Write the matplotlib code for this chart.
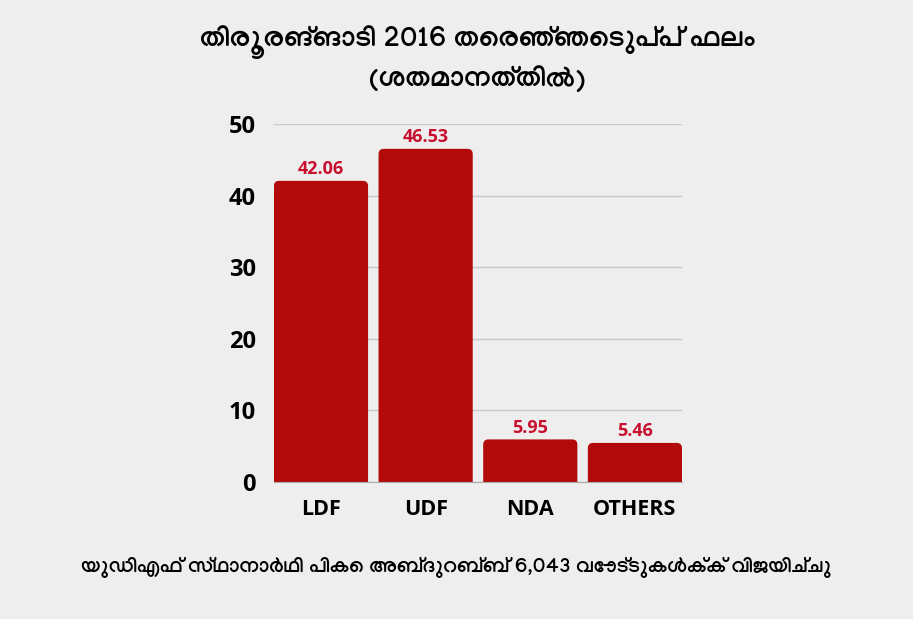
import matplotlib
matplotlib.use('Agg')

import matplotlib.pyplot as plt
from matplotlib.patches import FancyBboxPatch

# data
categories = ['LDF', 'UDF', 'NDA', 'OTHERS']
vote_share = [42.06, 46.53, 5.95, 5.46]
yticks = [0, 10, 20, 30, 40, 50]

title_text = 'തിരൂരങ്ങാടി 2016 തെരഞ്ഞെടുപ്പ് ഫലം\n(ശതമാനത്തിൽ)'
footer_text = 'യുഡിഎഫ് സ്ഥാനാർഥി പികെ അബ്ദുറബ്ബ് 6,043 വോട്ടുകൾക്ക് വിജയിച്ചു'

plt.rcParams['font.family'] = ['Open Sans', 'Noto Sans', 'DejaVu Sans']
ml_fonts = ['Manjari', 'Noto Sans Malayalam', 'Open Sans', 'DejaVu Sans']

bar_color = '#b20a0a'
label_color = '#c8102e'
bg_color = '#eeeeee'

fig = plt.figure(figsize=(9.13, 6.19), dpi=100)
fig.patch.set_facecolor(bg_color)
ax = fig.add_axes([0.300, 0.2213, 0.447, 0.5784])
ax.set_facecolor('none')

width = 0.9
for i, v in enumerate(vote_share):
    # rounded top corners; bottom extends below 0 and gets clipped
    p = FancyBboxPatch((i - width / 2, -3), width, v + 3,
                       boxstyle='round,pad=0,rounding_size=0.05',
                       mutation_aspect=14.5,
                       facecolor=bar_color, edgecolor='none', zorder=3)
    ax.add_patch(p)
    ax.text(i, v + 0.4, f'{v:.2f}', ha='center', va='bottom',
            fontsize=13, fontweight='bold', color=label_color, zorder=4)

ax.set_xlim(-0.45, len(categories) - 0.55)
ax.set_ylim(0, 50)
ax.set_yticks(yticks)
ax.set_yticklabels([str(t) for t in yticks], fontsize=17, fontweight='bold')
ax.set_xticks(range(len(categories)))
ax.set_xticklabels(categories, fontsize=15.5, fontweight='bold')
ax.tick_params(axis='both', length=0)
ax.tick_params(axis='y', pad=13)
ax.tick_params(axis='x', pad=12)

ax.grid(axis='y', color='#c8c8c8', linewidth=1, zorder=0)
for s in ['top', 'right', 'left']:
    ax.spines[s].set_visible(False)
ax.spines['bottom'].set_color('#aaaaaa')
ax.spines['bottom'].set_zorder(5)

fig.text(0.523, 0.905, title_text, ha='center', va='center', family=ml_fonts,
         fontsize=20.5, fontweight='bold', linespacing=1.3)
fig.text(0.50, 0.083, footer_text, ha='center', va='center', family=ml_fonts,
         fontsize=15, fontweight='bold')

plt.savefig('out.png', dpi=100, facecolor=bg_color)
